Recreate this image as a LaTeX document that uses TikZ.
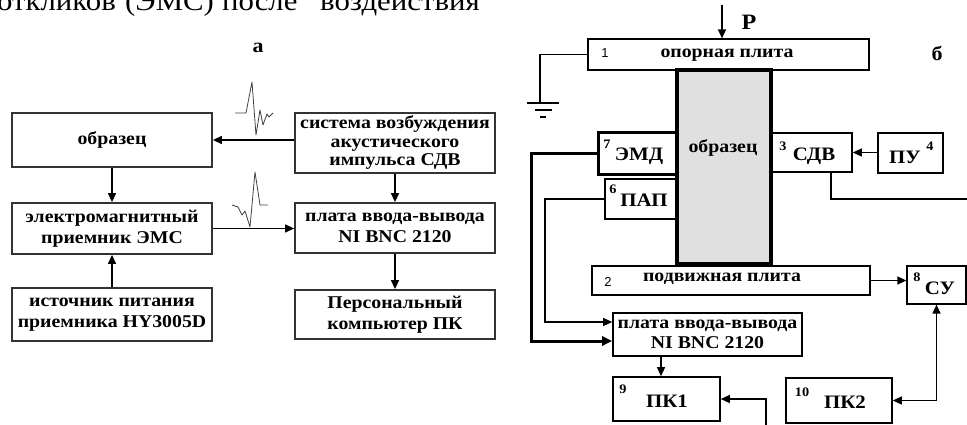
\documentclass[tikz,border=0pt]{standalone}
\usepackage{fontspec}
\setmainfont{Liberation Serif}[FakeStretch=1.1]
\newfontfamily\numsans{Liberation Sans}
\usetikzlibrary{arrows.meta}
\begin{document}
\begin{tikzpicture}[x=1pt,y=-1pt,
  lbox/.style={draw=black!80, line width=1.8pt, inner sep=0pt, align=center,
    font=\bfseries\fontsize{18}{21}\selectfont},
  rbox/.style={draw, line width=1.2pt, inner sep=0pt},
  txt/.style={font=\bfseries\fontsize{18}{20}\selectfont, align=center, inner sep=0pt},
  big/.style={font=\bfseries\fontsize{19}{21}\selectfont, inner sep=0pt},
  num/.style={font=\bfseries\fontsize{13}{14}\selectfont, inner sep=0pt},
  snum/.style={font=\numsans\fontsize{13}{14}\selectfont, inner sep=0pt},
  toptxt/.style={inner sep=0pt, font=\fontsize{28}{28}\selectfont},
  arr/.style={line width=1.3pt, -{Triangle[length=9pt,width=8pt]}},
  wave/.style={line width=0.8pt, black!75, line join=round},
]
\useasboundingbox (0,0) rectangle (967,425);
\clip (0,0) rectangle (967,425);

% cut-off line of text at top
\node[toptxt, anchor=base east] (t1) at (116,11) {откликов};
\node[toptxt, anchor=base west] (t2) at (125,11) {(ЭМС)};
\node[toptxt, anchor=base west] (t3) at (222,11) {после};
\node[toptxt, anchor=base west] (t4) at (320,11) {воздействия};

% ---------------- panel a ----------------
\node[font=\bfseries\fontsize{20}{22}\selectfont, inner sep=0pt] (la) at (258,48) {а};

\node[lbox, minimum width=200pt, minimum height=54pt] (obr) at (112,140) {образец};
\node[lbox, minimum width=200pt, minimum height=60pt, font=\bfseries\fontsize{18}{18.5}\selectfont] (sys) at (395,143)
  {система возбуждения\\акустического\\импульса СДВ};
\node[lbox, minimum width=200pt, minimum height=51pt] (ems) at (112,228.5) {электромагнитный\\приемник ЭМС};
\node[lbox, minimum width=200pt, minimum height=50pt] (plata) at (395,228) {плата ввода-вывода\\NI BNC 2120};
\node[lbox, minimum width=200pt, minimum height=53pt] (ist) at (112,314.5) {источник питания\\приемника HY3005D};
\node[lbox, minimum width=200pt, minimum height=49pt] (pk) at (395,314.5) {Персональный\\компьютер ПК};

\draw[arr] (sys.west |- obr.east) -- (obr.east);
\draw[arr] (obr) -- (ems);
\draw[arr] (sys) -- (plata);
\draw[arr] (ems.east) -- (ems.east -| plata.west);
\draw[arr] (ist) -- (ems);
\draw[arr] (plata) -- (pk);

% wavelets
\draw[wave] (235,113) -- (246,113) -- (252,82) -- (256,135) -- (260,110) -- (263,125) -- (267,114) -- (269,117) -- (273,113);
\draw[wave] (232,205) -- (238,207) -- (242,215) -- (245,211) -- (250,227) -- (255,172) -- (260,205) -- (268,205);

% ---------------- panel b ----------------
\coordinate (ptop) at (722,5);
\node[rbox, minimum width=281pt, minimum height=31pt] (b1) at (728.5,54.5) {};
\draw[arr] (ptop) -- (b1.north -| ptop);
\node[font=\bfseries\fontsize{22}{24}\selectfont, inner sep=0pt] (P) at (749,22) {P};
\node[font=\bfseries\fontsize{20}{22}\selectfont, inner sep=0pt] (lb) at (937,53) {б};
\node[txt] at (727,55) {опорная плита};
\node[snum] at (605,53) {1};

% ground
\coordinate (g) at (540,103);
\draw[line width=1.1pt] (b1.west) -| (g);
\draw[line width=1.4pt] (527,103) -- (559,103) (535,110) -- (552,110) (540,117) -- (546,117);

\node[rbox, minimum width=278pt, minimum height=29pt] (b2) at (731,280.5) {};
\node[txt] at (722,279) {подвижная плита};
\node[snum] at (608,282) {2};

\node[rbox, line width=3pt, minimum width=79pt, minimum height=42pt] (emd) at (637.5,154) {};
\node[big] at (639,156) {ЭМД};
\node[num] at (607,144) {7};

\node[rbox, minimum width=72pt, minimum height=40pt] (pap) at (641,199) {};
\node[big] at (644,200) {ПАП};
\node[num] at (613,189) {6};

\node[draw, line width=4pt, fill=black!12, minimum width=94pt, minimum height=194pt, inner sep=0pt] (smp) at (724,167) {};
\node[txt] at (723,148) {образец};

\node[rbox, line width=1.6pt, minimum width=81pt, minimum height=39pt] (sdv) at (811.5,152.5) {};
\node[big] at (814,156) {СДВ};
\node[num] at (783,146) {3};

\node[rbox, line width=2.2pt, minimum width=65pt, minimum height=40pt] (pu) at (910.5,153) {};
\node[big] at (905,157) {ПУ};
\node[num] at (930,146) {4};

\draw[arr] (pu.west |- sdv.east) -- (sdv.east);

\coordinate (s1) at (831,199);
\coordinate (s2) at (967,199);
\draw[line width=1.1pt] (sdv.south -| s1) -- (s1) -- (s2);

\node[rbox, minimum width=59pt, minimum height=38pt] (su) at (936.5,285) {};
\node[big] at (940,288) {СУ};
\node[num] at (917,277) {8};
\draw[arr] (b2.east) -- (b2.east -| su.west);

\node[rbox, line width=1.6pt, minimum width=189pt, minimum height=43pt, txt, font=\bfseries\fontsize{18}{20}\selectfont] (plata2) at (707.5,334.5) {плата ввода-вывода\\NI BNC 2120};

\coordinate (e1) at (531,341);
\draw[line width=3pt, -{Triangle[length=10pt,width=9pt]}] (emd.west) -| (e1) -- (e1 -| plata2.west);
\coordinate (p1) at (545,322);
\draw[arr, line width=1.1pt] (pap.west) -| (p1) -- (p1 -| plata2.west);

\node[rbox, line width=1.6pt, minimum width=107pt, minimum height=44pt] (pk1) at (666.5,399) {};
\node[big] at (667,401) {ПК1};
\node[num] at (623,389) {9};
\draw[arr] (plata2.south -| 661,0) -- (pk1.north -| 661,0);

\node[rbox, line width=1.6pt, minimum width=106pt, minimum height=45pt] (pk2) at (839,400.5) {};
\node[big] at (845,402) {ПК2};
\node[num] at (802,392) {10};

\coordinate (bot) at (766,425);
\draw[arr] (bot) |- (pk1.east);
\draw[line width=1.3pt, {Triangle[length=9pt,width=8pt]}-{Triangle[length=9pt,width=8pt]}] (pk2.east) -| (su.south);
\end{tikzpicture}
\end{document}
